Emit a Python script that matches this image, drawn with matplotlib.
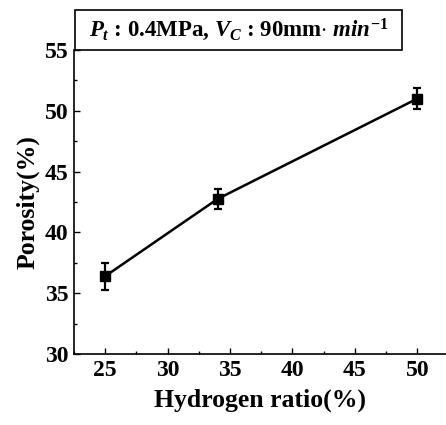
import matplotlib
matplotlib.use("Agg")
import matplotlib.pyplot as plt
from matplotlib.ticker import MultipleLocator
from matplotlib.patches import Rectangle

hydrogen = [25, 34, 50]
porosity = [36.4, 42.75, 51.0]
err = [1.1, 0.85, 0.85]

plt.rcParams['font.family'] = 'Liberation Serif'
plt.rcParams['font.weight'] = 'bold'
plt.rcParams['mathtext.fontset'] = 'custom'
plt.rcParams['mathtext.it'] = 'Liberation Serif:italic:bold'
plt.rcParams['mathtext.rm'] = 'Liberation Serif:bold'
plt.rcParams['mathtext.bf'] = 'Liberation Serif:bold'

fig = plt.figure(figsize=(4.46, 4.25), dpi=100)
ax = fig.add_axes([74/446, 1-354/425, 1-74/446, (354-50)/425])
ax.errorbar(hydrogen, porosity, yerr=err, color='black', marker='s', markersize=7.5,
            linewidth=1.8, elinewidth=1.6, capsize=3.2, capthick=1.6)
ax.set_xlim(22.5, 52.3)
ax.set_ylim(30, 55)
ax.xaxis.set_major_locator(MultipleLocator(5))
ax.xaxis.set_minor_locator(MultipleLocator(2.5))
ax.yaxis.set_major_locator(MultipleLocator(5))
ax.yaxis.set_minor_locator(MultipleLocator(2.5))
ax.tick_params(which='both', direction='in', labelsize=17, width=1)
ax.tick_params(which='major', length=4, pad=4)
ax.tick_params(which='minor', length=2.5)
ax.spines['top'].set_visible(False)
ax.spines['right'].set_visible(False)
for s in ['left', 'bottom']:
    ax.spines[s].set_linewidth(1.2)
for lab in ax.get_xticklabels() + ax.get_yticklabels():
    lab.set_fontweight('bold')
ax.set_xlabel('Hydrogen ratio(%)', fontsize=18.5, fontweight='bold', labelpad=6)
ax.set_ylabel('Porosity(%)', fontsize=18.5, fontweight='bold', labelpad=4)

rect = Rectangle((75/446, 1-50/425), (402-75)/446, 40/425, transform=fig.transFigure,
                 fill=False, edgecolor='black', linewidth=1.2)
fig.add_artist(rect)
fig.text((75+402)/2/446, 1-30/425, r'$P_t$ : 0.4MPa, $V_C$ : 90mm$\cdot$ $min^{-1}$',
         ha='center', va='center', fontsize=16.5, fontweight='bold')

fig.savefig('out.png', dpi=100)
